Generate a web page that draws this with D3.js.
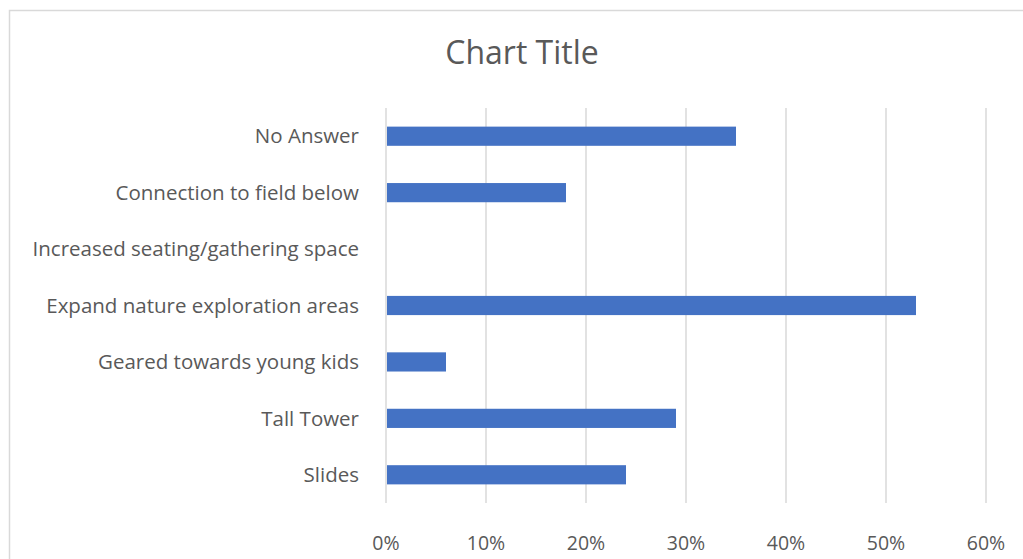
<!DOCTYPE html>
<html>
<head>
<meta charset="utf-8">
<script src="https://cdn.jsdelivr.net/npm/d3@7"></script>
<style>
  body { margin: 0; background: #fff; }
  svg { display: block; font-family: 'Open Sans', Lato, sans-serif; }
</style>
</head>
<body>
<svg id="chart" width="1023" height="559"></svg>
<script>
// data, top to bottom as drawn
let categories = ['No Answer', 'Connection to field below', 'Increased seating/gathering space',
  'Expand nature exploration areas', 'Geared towards young kids', 'Tall Tower', 'Slides'];
let values = [0.35, 0.18, 0, 0.53, 0.06, 0.29, 0.24];
let tickValues = [0, 0.1, 0.2, 0.3, 0.4, 0.5, 0.6];

let svg = d3.select('#chart');
let margin = { top: 108, left: 386, right: 37, bottom: 56 };
let width = 1023, height = 559;

// outer chart border (Excel chart area)
svg.append('rect')
  .attr('x', 9.5).attr('y', 10.5)
  .attr('width', 1040).attr('height', 600)
  .attr('fill', 'none').attr('stroke', '#d9d9d9').attr('stroke-width', 1.5);

svg.append('text')
  .attr('x', 522).attr('y', 64)
  .attr('text-anchor', 'middle')
  .attr('font-size', 32)
  .attr('fill', '#595959')
  .text('Chart Title');

let x = d3.scaleLinear().domain([0, 0.6]).range([margin.left, width - margin.right]);
let y = d3.scaleBand().domain(categories)
  .range([margin.top, height - margin.bottom])
  .paddingInner(0.66).paddingOuter(0.33);

// vertical gridlines
svg.append('g')
  .selectAll('line')
  .data(tickValues.slice(1))
  .join('line')
  .attr('x1', d => x(d)).attr('x2', d => x(d))
  .attr('y1', margin.top).attr('y2', height - margin.bottom)
  .attr('stroke', '#d9d9d9').attr('stroke-width', 1.5);

// category axis line
svg.append('line')
  .attr('x1', x(0)).attr('x2', x(0))
  .attr('y1', margin.top).attr('y2', height - margin.bottom)
  .attr('stroke', '#d9d9d9').attr('stroke-width', 1.5);

svg.append('g')
  .selectAll('rect')
  .data(categories)
  .join('rect')
  .attr('x', x(0) + 1)
  .attr('y', d => y(d))
  .attr('width', (d, i) => Math.max(0, x(values[i]) - x(0) - 1))
  .attr('height', y.bandwidth())
  .attr('fill', '#4472c4');

// category labels
svg.append('g')
  .selectAll('text')
  .data(categories)
  .join('text')
  .attr('x', 359)
  .attr('y', d => y(d) + y.bandwidth() / 2)
  .attr('dy', '0.35em')
  .attr('text-anchor', 'end')
  .attr('font-size', 20.5)
  .attr('fill', '#595959')
  .text(d => d);

// value axis labels
let fmt = d3.format('.0%');
svg.append('g')
  .selectAll('text')
  .data(tickValues)
  .join('text')
  .attr('x', d => x(d))
  .attr('y', 543)
  .attr('dy', '0.35em')
  .attr('text-anchor', 'middle')
  .attr('font-size', 19.5)
  .attr('fill', '#595959')
  .text(d => fmt(d));
</script>
</body>
</html>
